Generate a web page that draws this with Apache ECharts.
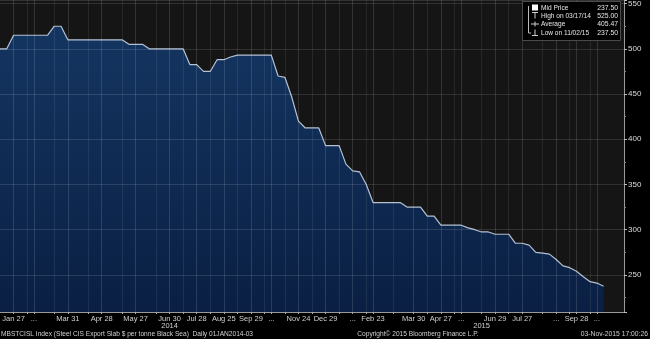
<!DOCTYPE html>
<html><head><meta charset="utf-8">
<script src="https://cdn.jsdelivr.net/npm/echarts@6/dist/echarts.min.js"></script>
<style>html,body{margin:0;padding:0;background:#000;}#c{width:650px;height:339px;}</style>
</head><body><div id="c"></div>
<script>
// Weekly observations (Bloomberg plots one slot per observation), USD per tonne
const prices = [
  500, 500, 515, 515, 515, 515, 515, 515, 525, 525,
  510, 510, 510, 510, 510, 510, 510, 510, 510, 505,
  505, 505, 500, 500, 500, 500, 500, 500, 482.5, 482.5,
  475, 475, 488, 488, 491, 493, 493, 493, 493, 493,
  493, 470, 468.5, 447, 420, 412.5, 412.5, 412.5, 393, 393,
  393, 372.5, 365, 364, 350, 330, 330, 330, 330, 330,
  325, 325, 325, 315, 315, 305, 305, 305, 305, 302,
  300, 297.5, 297.5, 295, 295, 295, 285, 285, 283, 275,
  274, 273, 267, 260, 258, 254, 248, 242.5, 241, 237.5
];
const slotCount = 93;
const categories = Array.from({length: slotCount}, (_, i) => 'obs' + i);
const tickSlots  = [2, 5, 10, 15, 20, 25, 29, 33, 37, 40, 44, 48, 52, 55, 61, 65, 68, 73, 77, 82, 85, 88];
const tickLabels = ['Jan 27','...','Mar 31','Apr 28','May 27','Jun 30','Jul 28','Aug 25','Sep 29','...','Nov 24',
                    'Dec 29','...','Feb 23','Mar 30','Apr 27','...','Jun 29','Jul 27','...','Sep 28','...'];
const yearSlots  = [25, 71];
const yearLabels = ['2014', '2015'];
const legendNames  = ['Mid Price', 'High on 03/17/14', 'Average', 'Low on 11/02/15'];
const legendValues = ['237.50', '525.00', '405.47', '237.50'];
const footerLeft  = 'MBSTCISL Index (Steel CIS Export Slab $ per tonne Black Sea)  Daily 01JAN2014-03';
const footerMid   = 'Copyright\u00A9 2015 Bloomberg Finance L.P.';
const footerRight = '03-Nov-2015 17:00:26';

const labelMap = {};
tickSlots.forEach((s, k) => labelMap[s] = tickLabels[k]);
const yearMap = {};
yearSlots.forEach((s, k) => yearMap[s] = yearLabels[k]);
const midSet = new Set();
for (let k = 0; k + 1 < tickSlots.length; k++) midSet.add(Math.round((tickSlots[k] + tickSlots[k + 1]) / 2));
const lastPrice = prices[prices.length - 1];

const FONT = '"Liberation Sans", Arial, sans-serif';
const chart = echarts.init(document.getElementById('c'), null, {renderer: 'canvas'});

function txt(text, x, y, align, size, color, sx, z) {
  return {type: 'text', x: x, y: y, scaleX: sx, z: z || 11,
          style: {text: text, x: 0, y: 0, fill: color, font: size + 'px ' + FONT, textAlign: align,
                  verticalAlign: 'middle', textVerticalAlign: 'middle'}};
}

const rowY = [7.5, 15.5, 24, 32.5];
const legendGraphics = [
  {type: 'rect', shape: {x: 522.5, y: 1.5, width: 98, height: 39}, style: {fill: '#000', stroke: '#4a4a4a', lineWidth: 1}, z: 10},
  {type: 'line', shape: {x1: 528.5, y1: 6, x2: 528.5, y2: 33}, style: {stroke: '#bbb', lineWidth: 1}, z: 11},
  {type: 'line', shape: {x1: 528.5, y1: 33, x2: 531, y2: 33}, style: {stroke: '#bbb', lineWidth: 1}, z: 11},
  {type: 'rect', shape: {x: 532, y: 4.5, width: 6, height: 6}, style: {fill: '#fff'}, z: 11},
  {type: 'line', shape: {x1: 532, y1: 12.5, x2: 538, y2: 12.5}, style: {stroke: '#ccc', lineWidth: 1}, z: 11},
  {type: 'line', shape: {x1: 535, y1: 12.5, x2: 535, y2: 18.5}, style: {stroke: '#ccc', lineWidth: 1}, z: 11},
  {type: 'line', shape: {x1: 531, y1: 24, x2: 539, y2: 24}, style: {stroke: '#ccc', lineWidth: 1}, z: 11},
  {type: 'line', shape: {x1: 535, y1: 21.5, x2: 535, y2: 26.5}, style: {stroke: '#ccc', lineWidth: 1}, z: 11},
  {type: 'line', shape: {x1: 535, y1: 29.5, x2: 535, y2: 35.5}, style: {stroke: '#ccc', lineWidth: 1}, z: 11},
  {type: 'line', shape: {x1: 532, y1: 35.5, x2: 538, y2: 35.5}, style: {stroke: '#ccc', lineWidth: 1}, z: 11}
];
legendNames.forEach((n, i) => {
  legendGraphics.push(txt(n, 541, rowY[i], 'left', 8, '#e6e6e6', 0.82));
  legendGraphics.push(txt(legendValues[i], 618, rowY[i], 'right', 8, '#e6e6e6', 0.85));
});
const footerGraphics = [
  txt(footerLeft, 1, 334, 'left', 7.5, '#cfcfcf', 0.88, 5),
  txt(footerMid, 418, 334, 'center', 7.5, '#cfcfcf', 0.88, 5),
  txt(footerRight, 648, 334, 'right', 7.5, '#cfcfcf', 0.9, 5)
];

chart.setOption({
  backgroundColor: '#000',
  animation: false,
  grid: {left: 0, right: 26, top: 0, bottom: 27, containLabel: false, outerBoundsMode: 'none',
         show: true, backgroundColor: '#151515', borderWidth: 0},
  xAxis: [{
    type: 'category', data: categories, boundaryGap: false, z: 3,
    axisLine: {show: true, lineStyle: {color: '#9a9a9a', width: 1}},
    axisTick: {show: true, interval: (i) => (i in labelMap) || midSet.has(i), length: 2, lineStyle: {color: '#aaa'}},
    axisLabel: {interval: (i) => (i in labelMap), formatter: (v, i) => labelMap[i] || '', color: '#d0d0d0',
                fontSize: 7.5, fontFamily: FONT, margin: 3, hideOverlap: false},
    splitLine: {show: true, interval: (i) => (i in labelMap), lineStyle: {color: 'rgba(255,255,255,0.13)', width: 1}}
  }, {
    type: 'category', data: categories, boundaryGap: false, position: 'bottom', z: 3,
    axisLine: {show: false}, axisTick: {show: false},
    axisLabel: {interval: (i) => (i in yearMap), formatter: (v, i) => yearMap[i] || '', color: '#d0d0d0',
                fontSize: 7.5, fontFamily: FONT, margin: 10, hideOverlap: false},
    splitLine: {show: true, interval: (i) => midSet.has(i), lineStyle: {color: 'rgba(255,255,255,0.08)', width: 1}}
  }],
  yAxis: {
    type: 'value', position: 'right', min: 209, max: 554, splitNumber: 7, z: 3,
    axisLine: {show: true, lineStyle: {color: '#9a9a9a', width: 1}},
    axisTick: {show: true, length: 3, lineStyle: {color: '#bbb'}},
    minorTick: {show: true, splitNumber: 2, length: 2, lineStyle: {color: '#888'}},
    axisLabel: {color: '#dcdcdc', fontSize: 8, fontFamily: FONT, margin: 4, showMinLabel: false, showMaxLabel: false},
    splitLine: {show: true, lineStyle: {color: 'rgba(255,255,255,0.12)', width: 1}}
  },
  series: [{
    type: 'line', data: prices, xAxisIndex: 0, symbol: 'none', smooth: false, z: 2,
    lineStyle: {color: '#b3c1d1', width: 1.2},
    areaStyle: {opacity: 1, color: new echarts.graphic.LinearGradient(0, 0, 0, 1, [
      {offset: 0, color: '#143561'}, {offset: 1, color: '#0a1f43'}])},
    markLine: {
      silent: true, symbol: 'none', animation: false,
      data: [{yAxis: lastPrice}],
      lineStyle: {opacity: 0},
      label: {show: true, position: 'end', distance: 2, formatter: lastPrice.toFixed(2),
              backgroundColor: '#d8d8d8', color: '#222', fontSize: 7.5, fontFamily: FONT,
              padding: [1, 2, 1, 2], borderRadius: 1}
    }
  }],
  graphic: legendGraphics.concat(footerGraphics)
});
</script></body></html>
